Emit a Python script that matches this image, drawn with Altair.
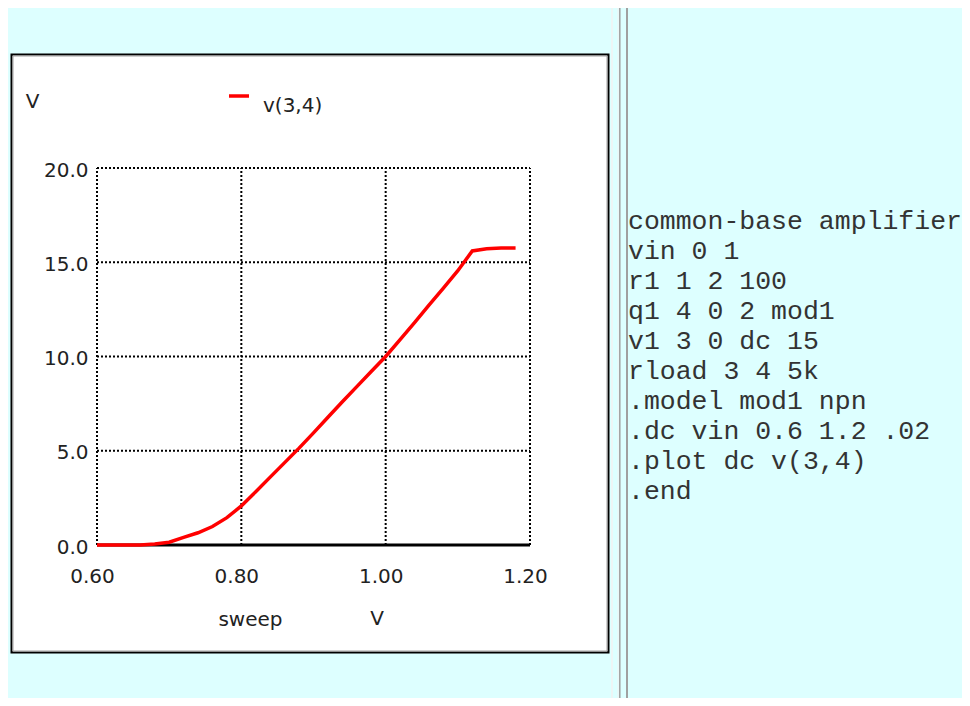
import altair as alt
import pandas as pd

# ---- data ----
SWEEP = [0.60, 0.62, 0.64, 0.66, 0.68, 0.70, 0.72, 0.74, 0.76, 0.78,
         0.80, 0.82, 0.84, 0.86, 0.88, 0.90, 0.92, 0.94, 0.96, 0.98,
         1.00, 1.02, 1.04, 1.06, 1.08, 1.10, 1.12, 1.14, 1.16, 1.18]
V34 = [0.0, 0.0, 0.0, 0.0, 0.05, 0.15, 0.40, 0.65, 0.98, 1.45,
       2.07, 2.83, 3.60, 4.37, 5.14, 5.95, 6.78, 7.60, 8.40, 9.20,
       10.0, 10.90, 11.80, 12.72, 13.63, 14.55, 15.60, 15.72, 15.76, 15.76]
SERIES = "v(3,4)"
X_TICKS = [0.6, 0.8, 1.0, 1.2]
Y_TICKS = [0, 5, 10, 15, 20]
Y_GRID = [5, 10, 15, 20]
X_DOMAIN = [0.6, 1.2]
Y_DOMAIN = [0, 20]
CODE_LINES = ["common-base amplifier", "vin 0 1", "r1 1 2 100", "q1 4 0 2 mod1",
              "v1 3 0 dc 15", "rload 3 4 5k", ".model mod1 npn",
              ".dc vin 0.6 1.2 .02", ".plot dc v(3,4)", ".end"]

# ---- layout (page pixels) ----
PAGE = 8
PL, PT, PW, PH = 97, 168, 433, 377  # plot area in page coords
TOTAL_W, TOTAL_H = 954, 690


def px(x):
    return x - PL


def py(y):
    return y - PT


LABEL_FONT = "DejaVu Sans"
one = pd.DataFrame({"k": [0]})
xs = alt.Scale(domain=X_DOMAIN, nice=False, zero=False)
ys = alt.Scale(domain=Y_DOMAIN, nice=False)

XAX = alt.Axis(
    values=X_TICKS, format=".2f", grid=False, domain=False, ticks=False,
    labelFont=LABEL_FONT, labelFontSize=20, labelColor="#222", labelPadding=21,
    labelOffset=-5, labelFlush=False, labelOverlap=False, zindex=1,
    title="sweep", titleFont=LABEL_FONT, titleFontSize=20, titleFontWeight="normal",
    titleColor="#222", titleX=px(250), titleY=625 - (PT + PH),
    titleBaseline="alphabetic", titleAlign="center")
YAX = alt.Axis(
    values=Y_TICKS, format=".1f", grid=False, domain=False, ticks=False,
    labelFont=LABEL_FONT, labelFontSize=20, labelColor="#222", labelPadding=9,
    labelOffset=2, labelFlush=False, labelOverlap=False, zindex=1,
    title="V", titleFont=LABEL_FONT, titleFontSize=20, titleFontWeight="normal",
    titleColor="#222", titleAngle=0, titleX=px(32), titleY=py(107),
    titleBaseline="alphabetic", titleAlign="center")

# table cell borders (vertical lines visible inside the canvas)
borders = []
for xpos, col, w in [(612, "#f2f2f2", 1.5), (618, "#f2f2f2", 1), (619.8, "#a0a0a0", 1.5),
                     (627, "#a0a0a0", 2)]:
    borders.append(
        alt.Chart(one).mark_rule(color=col, strokeWidth=w).encode(
            x=alt.value(px(xpos)), y=alt.value(py(0)), y2=alt.value(py(706)))
    )

box = alt.Chart(one).mark_rect(fill="white", stroke="black", strokeWidth=2).encode(
    x=alt.value(px(11.5)), x2=alt.value(px(608.5)),
    y=alt.value(py(54.5)), y2=alt.value(py(652.5)))
box_inner = alt.Chart(one).mark_rect(filled=False, stroke="#a0a0a0", strokeWidth=1).encode(
    x=alt.value(px(13)), x2=alt.value(px(607)),
    y=alt.value(py(56)), y2=alt.value(py(651)))

vgrid = alt.Chart(pd.DataFrame({"gx": X_TICKS, "ylo": 0, "yhi": 20})).mark_rule(
    color="black", strokeWidth=2, strokeDash=[2, 2]).encode(
    x=alt.X("gx:Q", scale=xs, axis=XAX),
    y=alt.Y("ylo:Q", scale=ys, axis=YAX), y2="yhi:Q")
hgrid = alt.Chart(pd.DataFrame({"gy": Y_GRID, "xlo": 0.6, "xhi": 1.2})).mark_rule(
    color="black", strokeWidth=2, strokeDash=[2, 2]).encode(
    y=alt.Y("gy:Q", scale=ys, axis=YAX),
    x=alt.X("xlo:Q", scale=xs, axis=XAX), x2="xhi:Q")
baseline = alt.Chart(pd.DataFrame({"xlo": [0.6], "xhi": [1.2], "y0": [0]})).mark_rule(
    color="black", strokeWidth=3).encode(
    x=alt.X("xlo:Q", scale=xs, axis=XAX), x2="xhi:Q",
    y=alt.Y("y0:Q", scale=ys, axis=YAX))

df = pd.DataFrame({"sweep": SWEEP, "v": V34, "series": SERIES})
line = alt.Chart(df).mark_line(strokeWidth=3.5).encode(
    x=alt.X("sweep:Q", scale=xs, axis=XAX),
    y=alt.Y("v:Q", scale=ys, axis=YAX),
    color=alt.Color("series:N", scale=alt.Scale(domain=[SERIES], range=["#ff0000"]),
                    legend=alt.Legend(orient="none", legendX=px(227), legendY=py(84),
                                      title=None, symbolType="stroke", symbolSize=400,
                                      symbolStrokeWidth=3.5, labelFont=LABEL_FONT,
                                      labelFontSize=20, labelColor="#222",
                                      labelBaseline="top", labelOffset=12, padding=0)))

unit_v = alt.Chart(one).mark_text(
    text="V", font=LABEL_FONT, fontSize=20, color="#222", align="center",
    baseline="alphabetic").encode(x=alt.value(px(377)), y=alt.value(py(625)))

code = alt.Chart(one).mark_text(
    text=CODE_LINES, lineHeight=30, font="Liberation Mono", fontSize=26.5,
    color="#333333", align="left", baseline="alphabetic").encode(
    x=alt.value(px(628)), y=alt.value(py(229)))

chart = alt.layer(*borders, box, box_inner, vgrid, hgrid, baseline, line, unit_v, code).properties(
    width=PW, height=PH,
    autosize=alt.AutoSizeParams(type="none"),
    padding={"left": PL - PAGE, "top": PT - PAGE,
             "right": TOTAL_W - (PL - PAGE) - PW, "bottom": TOTAL_H - (PT - PAGE) - PH},
    background="#ddffff",
).configure_view(stroke=None)

chart.save("out.html", embed_options={"renderer": "svg", "actions": False})
